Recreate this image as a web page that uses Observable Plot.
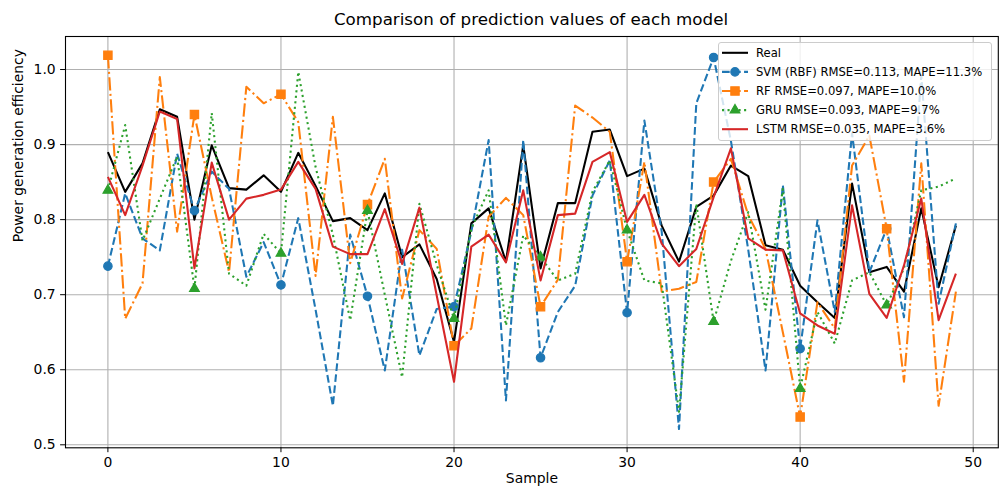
<!DOCTYPE html>
<html><head><meta charset="utf-8">
<script src="https://cdn.jsdelivr.net/npm/d3@7"></script>
<script src="https://cdn.jsdelivr.net/npm/@observablehq/plot@0.6"></script>
<style>
body{margin:0;background:#fff;font-family:"DejaVu Sans",sans-serif;}
#wrap{position:relative;width:1005px;height:490px;overflow:hidden;}
#title{position:absolute;left:65px;width:932px;top:8px;text-align:center;font-size:16.7px;line-height:22px;color:#000;}
#chart{position:absolute;left:0;top:30px;}
#legend{position:absolute;left:718px;top:42px;}
</style></head><body>
<div id="wrap"><div id="title">Comparison of prediction values of each model</div><div id="chart"></div><div id="legend"></div></div>
<script>
const seriesNames = ["Real", "SVM (RBF) RMSE=0.113, MAPE=11.3%", "RF RMSE=0.097, MAPE=10.0%", "GRU RMSE=0.093, MAPE=9.7%", "LSTM RMSE=0.035, MAPE=3.6%"];
const xTicks = [0, 10, 20, 30, 40, 50];
const yTicks = [0.5, 0.6, 0.7, 0.8, 0.9, 1.0];
const real = [0.890,0.837,0.875,0.947,0.937,0.800,0.899,0.842,0.840,0.859,0.837,0.889,0.845,0.798,0.802,0.786,0.835,0.750,0.767,0.721,0.637,0.795,0.815,0.744,0.899,0.735,0.822,0.822,0.917,0.920,0.858,0.868,0.792,0.744,0.817,0.832,0.872,0.858,0.766,0.760,0.712,0.690,0.669,0.848,0.730,0.737,0.704,0.815,0.710,0.792];
const svm = [0.738,0.835,0.775,0.759,0.888,0.812,0.864,0.841,0.724,0.770,0.713,0.802,0.680,0.552,0.780,0.698,0.599,0.760,0.619,0.681,0.684,0.784,0.906,0.559,0.906,0.616,0.677,0.712,0.832,0.879,0.676,0.932,0.784,0.521,0.955,1.016,0.905,0.760,0.599,0.846,0.628,0.799,0.677,0.915,0.730,0.788,0.670,0.992,0.688,0.795];
const rf = [1.019,0.668,0.715,0.990,0.784,0.940,0.830,0.730,0.977,0.955,0.967,0.930,0.725,0.937,0.742,0.820,0.881,0.695,0.786,0.761,0.632,0.655,0.804,0.829,0.806,0.684,0.720,0.952,0.936,0.917,0.744,0.877,0.704,0.708,0.717,0.850,0.881,0.806,0.761,0.650,0.537,0.690,0.655,0.872,0.912,0.788,0.584,0.875,0.552,0.704];
const gru = [0.839,0.926,0.772,0.828,0.884,0.708,0.942,0.728,0.712,0.781,0.755,0.997,0.870,0.780,0.666,0.812,0.700,0.590,0.821,0.740,0.668,0.788,0.839,0.659,0.779,0.750,0.719,0.728,0.837,0.879,0.786,0.719,0.715,0.544,0.821,0.664,0.745,0.810,0.680,0.841,0.575,0.677,0.635,0.719,0.730,0.686,0.735,0.839,0.844,0.855];
const lstm = [0.857,0.806,0.872,0.944,0.934,0.735,0.876,0.800,0.828,0.833,0.840,0.877,0.841,0.764,0.754,0.754,0.814,0.741,0.816,0.699,0.584,0.764,0.780,0.743,0.839,0.719,0.806,0.808,0.877,0.890,0.797,0.833,0.768,0.738,0.761,0.830,0.895,0.775,0.760,0.759,0.675,0.659,0.648,0.819,0.701,0.669,0.739,0.828,0.666,0.728];

const colors = ["#000000", "#1f77b4", "#ff7f0e", "#2ca02c", "#d62728"];
const dashes = [null, "7.7,3.33", "13.3,3.33,2.08,3.33", "2.08,3.44", null];
const symbols = [null, "circle", "square", "triangle", null];
const symR = [0, 4.2, 4.7, 3.6, 0];
const allValues = [real, svm, rf, gru, lstm];
const LW = 2.08;

const toRows = vals => vals.map((v, i) => ({i, v}));
const marks = [
  Plot.gridX(xTicks, {stroke: "#b0b0b0", strokeOpacity: 1, strokeWidth: 1.1}),
  Plot.gridY(yTicks, {stroke: "#b0b0b0", strokeOpacity: 1, strokeWidth: 1.1})
];
allValues.forEach((vals, k) => {
  const rows = toRows(vals);
  const opts = {x: "i", y: "v", stroke: colors[k], strokeWidth: LW, strokeLinecap: "butt", strokeLinejoin: "round"};
  if (dashes[k]) opts.strokeDasharray = dashes[k];
  marks.push(Plot.line(rows, opts));
  if (symbols[k]) {
    marks.push(Plot.dot(rows.filter(d => d.i % 5 === 0), {x: "i", y: "v", symbol: symbols[k], r: symR[k], fill: colors[k], stroke: colors[k], strokeWidth: 1.2}));
  }
});
marks.push(
  Plot.frame({stroke: "#000", strokeWidth: 1.1}),
  Plot.axisX(xTicks, {tickSize: 4.9, tickPadding: 4.9, label: null}),
  Plot.axisY(yTicks, {tickSize: 4.9, tickPadding: 4.9, label: null, tickFormat: d => d.toFixed(1)}),
  Plot.text(["Sample"], {text: d => d, frameAnchor: "bottom", dy: 35, fontSize: 13.9}),
  Plot.text(["Power generation efficiency"], {text: d => d, frameAnchor: "left", dx: -47, rotate: -90, fontSize: 13.9})
);

const chart = Plot.plot({
  width: 1005, height: 460,
  marginLeft: 65, marginRight: 7.2, marginTop: 6, marginBottom: 42.7,
  style: {fontFamily: "DejaVu Sans", fontSize: "13.9px", color: "#000", background: "transparent"},
  x: {domain: [-2.45, 51.45]},
  y: {domain: [0.496, 1.044]},
  marks
});
document.getElementById("chart").appendChild(chart);

// legend
const lg = d3.select("#legend").append("svg").attr("width", 275).attr("height", 100)
  .style("font-family", "DejaVu Sans").style("font-size", "11.6px");
lg.append("rect").attr("x", 0.5).attr("y", 0.5).attr("width", 273).attr("height", 98).attr("rx", 2.5)
  .attr("fill", "#fff").attr("fill-opacity", 0.8).attr("stroke", "#cccccc").attr("stroke-width", 1);
seriesNames.forEach((name, k) => {
  const y = 10.8 + 19.1 * k;
  const ln = lg.append("line").attr("x1", 4).attr("x2", 30).attr("y1", y).attr("y2", y)
    .attr("stroke", colors[k]).attr("stroke-width", LW);
  if (dashes[k]) ln.attr("stroke-dasharray", dashes[k]);
  if (symbols[k]) {
    const sym = {circle: d3.symbolCircle, square: d3.symbolSquare, triangle: d3.symbolTriangle}[symbols[k]];
    lg.append("path").attr("d", d3.symbol(sym, Math.PI * symR[k] * symR[k])())
      .attr("transform", `translate(17,${y})`).attr("fill", colors[k]).attr("stroke", colors[k]).attr("stroke-width", 1.2);
  }
  lg.append("text").attr("x", 38).attr("y", y).attr("dy", "0.35em").attr("fill", "#000").text(name);
});
</script>
</body></html>
